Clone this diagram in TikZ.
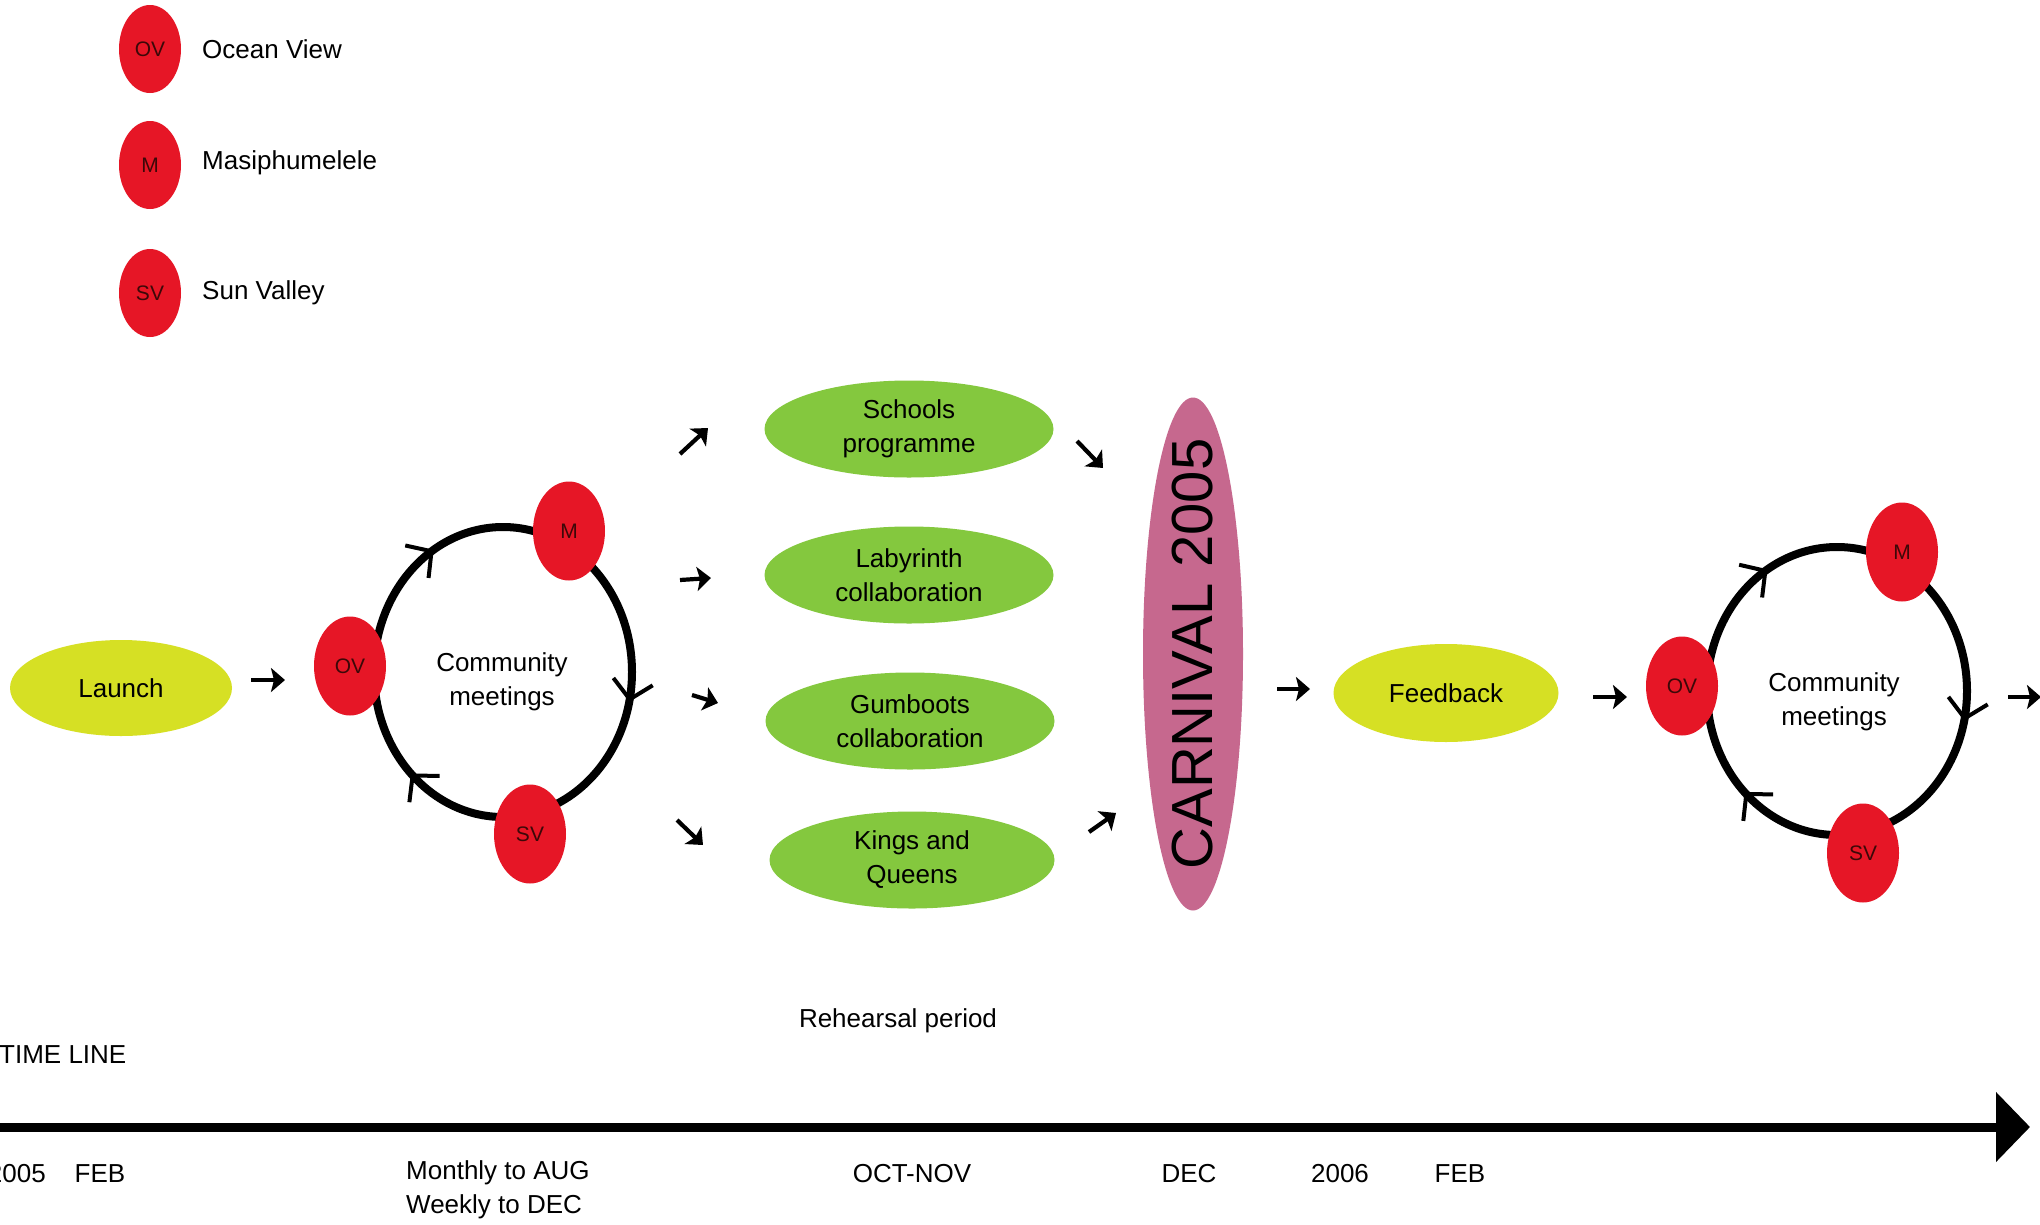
\documentclass[tikz,border=0pt]{standalone}
\usepackage{fontspec}
\setmainfont{Liberation Sans}
\usetikzlibrary{arrows.meta,shapes.geometric,decorations.markings}
\definecolor{cred}{RGB}{230,22,38}
\definecolor{cdark}{RGB}{60,8,8}
\definecolor{cgreen}{RGB}{132,200,62}
\definecolor{clime}{RGB}{214,224,36}
\definecolor{cpink}{RGB}{198,104,142}
\begin{document}
\begin{tikzpicture}[x=1pt,y=-1pt,
  lbl/.style={font=\fontsize{26}{34}\selectfont, align=center, inner sep=0pt},
  dot/.style={ellipse, fill=cred, minimum width=72pt, minimum height=99pt, inner sep=0pt,
    font=\fontsize{21}{24}\selectfont, text=cdark},
  legdot/.style={dot, minimum width=62pt, minimum height=88pt},
  greenov/.style={ellipse, fill=cgreen, minimum width=289pt, minimum height=97pt, inner sep=0pt,
    font=\fontsize{26}{34}\selectfont, align=center},
  limeov/.style={ellipse, fill=clime, minimum width=222pt, minimum height=96pt, inner sep=0pt,
    font=\fontsize{26}{34}\selectfont},
  flow/.style={line width=4.2pt, -{Stealth[length=14pt,width=24pt,inset=3pt]}},
  loopring/.style={line width=8pt, postaction={decorate}, decoration={markings,
    mark=at position 0.035 with {\arrow{Straight Barb[length=18pt,width=40pt,line width=4pt]}},
    mark=at position 0.372 with {\arrow{Straight Barb[length=18pt,width=40pt,line width=4pt]}},
    mark=at position 0.664 with {\arrow{Straight Barb[length=18pt,width=40pt,line width=4pt]}}}}
]
\useasboundingbox (0,0) rectangle (2040,1224);
\fill[white] (0,0) rectangle (2040,1224);

% legend
\node[legdot] (lov) at (150,49) {OV};
\node[legdot] (lm) at (150,165) {M};
\node[legdot] (lsv) at (150,293) {SV};
\node[lbl, anchor=west] (tov) at (202,49) {Ocean View};
\node[lbl, anchor=west] (tm) at (202,163) {Masiphumelele};
\node[lbl, anchor=west] (tsv) at (202,293) {Sun Valley};

% launch
\node[limeov] (launch) at (121,688) {Launch};

% loop 1
\coordinate (c1) at (503,672);
\draw[loopring] (c1) ellipse [x radius=129, y radius=145];
\node[dot] (ov1) at (350,666) {OV};
\node[dot] (m1) at (569,531) {M};
\node[dot] (sv1) at (530,834) {SV};
\node[lbl] (cm1) at (502,682) {Community\\meetings};

% activities
\node[greenov] (schools) at (909,429) {Schools\\programme};
\node[greenov] (laby) at (909,575) {Labyrinth\\collaboration};
\node[greenov] (gum) at (910,721) {Gumboots\\collaboration};
\node[greenov, minimum width=285pt] (kings) at (912,860) {Kings and\\Queens};

% carnival
\node[ellipse, fill=cpink, minimum width=100pt, minimum height=513pt, inner sep=0pt] (carn) at (1193,654) {};
\node[rotate=90, font=\fontsize{58}{60}\selectfont, inner sep=0pt] (carnt) at (1193,654) {CARNIVAL 2005};

% feedback
\node[limeov, minimum width=225pt, minimum height=98pt] (feed) at (1446,693) {Feedback};

% loop 2
\coordinate (c2) at (1837,691);
\draw[loopring] (c2) ellipse [x radius=130, y radius=144];
\node[dot] (ov2) at (1682,686) {OV};
\node[dot] (m2) at (1902,552) {M};
\node[dot] (sv2) at (1863,853) {SV};
\node[lbl] (cm2) at (1834,702) {Community\\meetings};

% flow arrows
\coordinate (f1a) at (251,680); \coordinate (f1b) at (285,680);
\draw[flow] (f1a) -- (f1b);
\coordinate (f2a) at (680,454); \coordinate (f2b) at (708,428);
\draw[flow] (f2a) -- (f2b);
\coordinate (f3a) at (680,580); \coordinate (f3b) at (711,578);
\draw[flow] (f3a) -- (f3b);
\coordinate (f4a) at (692,695); \coordinate (f4b) at (718,703);
\draw[flow] (f4a) -- (f4b);
\coordinate (f5a) at (677,820); \coordinate (f5b) at (703,845);
\draw[flow] (f5a) -- (f5b);
\coordinate (f6a) at (1077,441); \coordinate (f6b) at (1103,468);
\draw[flow] (f6a) -- (f6b);
\coordinate (f7a) at (1089,832); \coordinate (f7b) at (1116,813);
\draw[flow] (f7a) -- (f7b);
\coordinate (f8a) at (1277,689); \coordinate (f8b) at (1310,689);
\draw[flow] (f8a) -- (f8b);
\coordinate (f9a) at (1593,697); \coordinate (f9b) at (1627,697);
\draw[flow] (f9a) -- (f9b);
\coordinate (f10a) at (2008,697); \coordinate (f10b) at (2041,697);
\draw[flow] (f10a) -- (f10b);

% timeline
\node[lbl] (reh) at (898,1021) {Rehearsal period};
\node[lbl, anchor=west] (tline) at (-1,1055) {TIME LINE};
\coordinate (t0) at (-10,1127);
\coordinate (t1) at (2030,1127);
\draw[line width=9pt, -{Triangle[length=34pt,width=68pt]}] (t0) -- (t1);
\node[lbl, anchor=east] (y05) at (46,1174) {2005};
\node[lbl] (feb1) at (100,1174) {FEB};
\node[lbl, align=left, anchor=west] (month) at (406,1190) {Monthly to AUG\\Weekly to DEC};
\node[lbl] (octnov) at (912,1174) {OCT-NOV};
\node[lbl] (dec) at (1189,1174) {DEC};
\node[lbl] (y06) at (1340,1174) {2006};
\node[lbl] (feb2) at (1460,1174) {FEB};
\end{tikzpicture}
\end{document}
